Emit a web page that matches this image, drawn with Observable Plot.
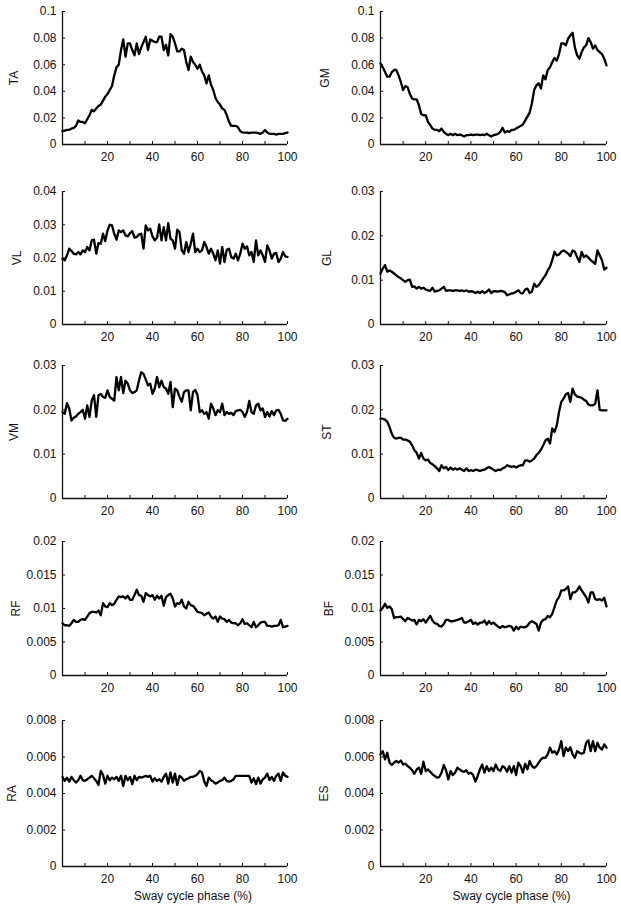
<!DOCTYPE html>
<html><head><meta charset="utf-8">
<script src="https://cdn.jsdelivr.net/npm/d3@7"></script>
<script src="https://cdn.jsdelivr.net/npm/@observablehq/plot@0.6"></script>
<style>
body{margin:0;background:#fff;}
#chart{position:relative;width:621px;height:906px;background:#fff;}
#chart svg{position:absolute;}
</style></head><body><div id="chart"></div>
<script>
// ---- data ----
const phase = [0,1,2,3,4,5,6,7,8,9,10,11,12,13,14,15,16,17,18,19,20,21,22,23,24,25,26,27,28,29,30,31,32,33,34,35,36,37,38,39,40,41,42,43,44,45,46,47,48,49,50,51,52,53,54,55,56,57,58,59,60,61,62,63,64,65,66,67,68,69,70,71,72,73,74,75,76,77,78,79,80,81,82,83,84,85,86,87,88,89,90,91,92,93,94,95,96,97,98,99,100];

const TA = [0.010,0.0105,0.011,0.011,0.012,0.0125,0.014,0.018,0.017,0.017,0.016,0.019,0.022,0.026,0.025,0.027,0.029,0.030,0.033,0.036,0.038,0.041,0.044,0.052,0.058,0.060,0.071,0.079,0.066,0.076,0.076,0.071,0.067,0.076,0.068,0.073,0.077,0.081,0.071,0.079,0.078,0.077,0.077,0.081,0.081,0.071,0.075,0.067,0.083,0.081,0.076,0.070,0.070,0.072,0.071,0.062,0.056,0.066,0.062,0.060,0.057,0.060,0.055,0.052,0.046,0.052,0.045,0.041,0.035,0.032,0.030,0.027,0.026,0.022,0.017,0.014,0.014,0.014,0.013,0.010,0.009,0.009,0.009,0.0085,0.009,0.009,0.009,0.0085,0.008,0.009,0.011,0.009,0.008,0.008,0.008,0.0075,0.008,0.008,0.008,0.0085,0.009];

const GM = [0.061,0.058,0.0545,0.051,0.051,0.0545,0.056,0.056,0.052,0.047,0.041,0.044,0.043,0.038,0.0345,0.034,0.034,0.0295,0.023,0.022,0.022,0.017,0.0145,0.012,0.011,0.011,0.010,0.012,0.0095,0.008,0.007,0.008,0.007,0.008,0.007,0.0075,0.007,0.006,0.007,0.007,0.0075,0.007,0.0075,0.0075,0.007,0.0075,0.007,0.008,0.007,0.006,0.007,0.0075,0.008,0.0095,0.0125,0.009,0.010,0.0095,0.011,0.011,0.012,0.013,0.014,0.015,0.018,0.021,0.024,0.031,0.041,0.0445,0.046,0.042,0.052,0.049,0.056,0.058,0.062,0.065,0.063,0.068,0.076,0.076,0.0745,0.0795,0.082,0.084,0.073,0.067,0.0645,0.0695,0.073,0.0745,0.080,0.077,0.072,0.0745,0.071,0.0695,0.068,0.0645,0.0595];

const VL = [0.0198,0.0193,0.0208,0.0228,0.0221,0.0213,0.0211,0.0218,0.0211,0.0223,0.0218,0.0233,0.0223,0.0253,0.0255,0.0213,0.0245,0.0243,0.0273,0.0251,0.0283,0.0300,0.0298,0.0273,0.0255,0.0283,0.0278,0.0283,0.0268,0.0265,0.0275,0.0281,0.0261,0.0263,0.0271,0.0273,0.0228,0.0298,0.0283,0.0288,0.0265,0.0253,0.0261,0.0301,0.0253,0.0293,0.0253,0.0305,0.0258,0.0253,0.0228,0.0285,0.0278,0.0223,0.0213,0.0248,0.0218,0.0243,0.0273,0.0218,0.0228,0.0218,0.0223,0.0248,0.0233,0.0213,0.0228,0.0213,0.0193,0.0223,0.0183,0.0233,0.0188,0.0225,0.0228,0.0203,0.0198,0.0213,0.0193,0.0213,0.0243,0.0228,0.0235,0.0208,0.0218,0.0188,0.0253,0.0208,0.0223,0.0208,0.0188,0.0238,0.0223,0.0198,0.0213,0.0215,0.0188,0.0198,0.0218,0.0205,0.0203];

const GL = [0.0115,0.0126,0.0134,0.0119,0.0122,0.0119,0.0115,0.0111,0.0107,0.0104,0.0100,0.0096,0.0100,0.0101,0.0085,0.0086,0.0081,0.0085,0.0081,0.0083,0.0079,0.0077,0.0076,0.0083,0.0074,0.0076,0.0077,0.0081,0.0085,0.0076,0.0077,0.0077,0.0076,0.0077,0.0077,0.0076,0.0077,0.0075,0.0077,0.0074,0.0075,0.0074,0.0071,0.0074,0.0071,0.0075,0.0071,0.0074,0.0079,0.0071,0.0075,0.0075,0.0074,0.0076,0.0075,0.0073,0.0066,0.0068,0.0070,0.0071,0.0074,0.0077,0.0071,0.0070,0.0079,0.0081,0.0071,0.0074,0.0092,0.0085,0.0089,0.0096,0.0104,0.0111,0.0122,0.0130,0.0145,0.0164,0.0156,0.0158,0.0164,0.0167,0.0164,0.0160,0.0154,0.0167,0.0164,0.0152,0.0141,0.0164,0.0152,0.0156,0.0151,0.0145,0.0141,0.0137,0.0167,0.0156,0.0145,0.0124,0.0128];

const VM = [0.0195,0.0191,0.0215,0.0203,0.0176,0.0182,0.0185,0.0191,0.0195,0.0200,0.0180,0.0210,0.0184,0.0221,0.0233,0.0184,0.0233,0.0236,0.0229,0.0227,0.0244,0.0229,0.0225,0.0221,0.0274,0.0244,0.0274,0.0238,0.0266,0.0259,0.0244,0.0238,0.0240,0.0244,0.0266,0.0285,0.0281,0.0268,0.0255,0.0259,0.0236,0.0248,0.0274,0.0251,0.0266,0.0251,0.0248,0.0236,0.0263,0.0206,0.0248,0.0244,0.0229,0.0218,0.0240,0.0244,0.0244,0.0199,0.0240,0.0245,0.0233,0.0195,0.0199,0.0191,0.0195,0.0180,0.0214,0.0203,0.0188,0.0199,0.0195,0.0214,0.0188,0.0195,0.0191,0.0193,0.0188,0.0197,0.0199,0.0200,0.0195,0.0184,0.0195,0.0220,0.0195,0.0191,0.0210,0.0214,0.0199,0.0203,0.0184,0.0195,0.0185,0.0197,0.0188,0.0199,0.0200,0.0191,0.0176,0.0175,0.0180];

const ST = [0.0180,0.0180,0.0178,0.0173,0.0161,0.0146,0.0137,0.0135,0.0137,0.0137,0.0133,0.0133,0.0131,0.0128,0.0120,0.0109,0.0103,0.0090,0.0103,0.0090,0.0086,0.0088,0.0080,0.0077,0.0073,0.0068,0.0062,0.0075,0.0068,0.0071,0.0064,0.0070,0.0065,0.0068,0.0065,0.0068,0.0065,0.0062,0.0068,0.0062,0.0064,0.0062,0.0065,0.0064,0.0062,0.0064,0.0065,0.0068,0.0071,0.0068,0.0065,0.0062,0.0065,0.0064,0.0068,0.0070,0.0075,0.0073,0.0071,0.0073,0.0070,0.0073,0.0075,0.0075,0.0086,0.0086,0.0083,0.0086,0.0090,0.0098,0.0103,0.0110,0.0120,0.0131,0.0135,0.0124,0.0158,0.0150,0.0165,0.0195,0.0218,0.0225,0.0235,0.0238,0.0218,0.0248,0.0235,0.0230,0.0229,0.0227,0.0223,0.0220,0.0212,0.0210,0.0210,0.0214,0.0244,0.0200,0.0199,0.0199,0.0199];

const RF = [0.0078,0.0075,0.0075,0.0074,0.0078,0.0083,0.0080,0.0080,0.0083,0.0084,0.0083,0.0088,0.0093,0.0095,0.0095,0.0094,0.0097,0.0090,0.0108,0.0103,0.0102,0.0108,0.0105,0.0107,0.0113,0.0118,0.0117,0.0118,0.0115,0.0119,0.0113,0.0113,0.0120,0.0128,0.0120,0.0119,0.0110,0.0123,0.0120,0.0118,0.0120,0.0113,0.0119,0.0115,0.0119,0.0104,0.0117,0.0120,0.0122,0.0115,0.0103,0.0108,0.0107,0.0113,0.0103,0.0100,0.0110,0.0105,0.0104,0.0100,0.0095,0.0094,0.0093,0.0090,0.0092,0.0094,0.0088,0.0085,0.0088,0.0080,0.0088,0.0085,0.0084,0.0080,0.0083,0.0079,0.0078,0.0078,0.0075,0.0078,0.0084,0.0077,0.0078,0.0075,0.0072,0.0080,0.0072,0.0075,0.0079,0.0080,0.0080,0.0074,0.0074,0.0073,0.0074,0.0074,0.0075,0.0083,0.0072,0.0073,0.0074];

const BF = [0.0097,0.0101,0.0107,0.0101,0.0103,0.0099,0.0086,0.0087,0.0087,0.0088,0.0084,0.0081,0.0086,0.0084,0.0082,0.0083,0.0076,0.0083,0.0081,0.0084,0.0079,0.0084,0.0089,0.0082,0.0078,0.0077,0.0074,0.0073,0.0077,0.0083,0.0083,0.0081,0.0081,0.0082,0.0083,0.0084,0.0086,0.0079,0.0079,0.0081,0.0083,0.0077,0.0079,0.0076,0.0079,0.0079,0.0082,0.0076,0.0081,0.0077,0.0079,0.0076,0.0073,0.0071,0.0074,0.0072,0.0073,0.0074,0.0073,0.0067,0.0073,0.0069,0.0073,0.0072,0.0072,0.0074,0.0079,0.0081,0.0079,0.0077,0.0067,0.0079,0.0083,0.0084,0.0089,0.0087,0.0092,0.0102,0.0112,0.0117,0.0127,0.0127,0.0129,0.0133,0.0114,0.0124,0.0124,0.0127,0.0133,0.0127,0.0122,0.0117,0.0109,0.0124,0.0124,0.0114,0.0113,0.0114,0.0112,0.0116,0.0103];

const RA = [0.00491,0.00469,0.00487,0.00465,0.00491,0.00473,0.00460,0.00473,0.00497,0.00473,0.00469,0.00478,0.00487,0.00497,0.00484,0.00469,0.00447,0.00524,0.00502,0.00454,0.00497,0.00473,0.00487,0.00478,0.00491,0.00469,0.00497,0.00441,0.00497,0.00473,0.00491,0.00451,0.00497,0.00473,0.00491,0.00487,0.00491,0.00497,0.00491,0.00497,0.00465,0.00484,0.00469,0.00478,0.00465,0.00491,0.00509,0.00454,0.00515,0.00460,0.00509,0.00447,0.00497,0.00487,0.00469,0.00478,0.00484,0.00491,0.00491,0.00497,0.00506,0.00524,0.00515,0.00465,0.00441,0.00487,0.00473,0.00465,0.00454,0.00460,0.00469,0.00473,0.00487,0.00469,0.00465,0.00469,0.00478,0.00497,0.00497,0.00497,0.00497,0.00497,0.00497,0.00497,0.00460,0.00484,0.00451,0.00487,0.00454,0.00478,0.00487,0.00509,0.00473,0.00491,0.00469,0.00497,0.00509,0.00469,0.00515,0.00497,0.00491];

const ES = [0.00614,0.00632,0.00587,0.00623,0.00569,0.00556,0.00569,0.00578,0.00569,0.00581,0.00559,0.00563,0.00550,0.00541,0.00527,0.00508,0.00532,0.00541,0.00508,0.00574,0.00523,0.00532,0.00519,0.00505,0.00496,0.00487,0.00490,0.00514,0.00556,0.00527,0.00477,0.00523,0.00501,0.00514,0.00541,0.00532,0.00523,0.00519,0.00527,0.00508,0.00514,0.00501,0.00465,0.00496,0.00532,0.00559,0.00514,0.00550,0.00523,0.00541,0.00523,0.00559,0.00532,0.00523,0.00550,0.00541,0.00519,0.00550,0.00514,0.00550,0.00501,0.00569,0.00550,0.00514,0.00563,0.00532,0.00578,0.00550,0.00541,0.00550,0.00569,0.00587,0.00596,0.00596,0.00614,0.00651,0.00623,0.00632,0.00614,0.00641,0.00687,0.00605,0.00651,0.00632,0.00654,0.00614,0.00596,0.00632,0.00623,0.00618,0.00623,0.00678,0.00691,0.00632,0.00687,0.00632,0.00678,0.00651,0.00641,0.00669,0.00651];

const muscles = ["TA","GM","VL","GL","VM","ST","RF","BF","RA","ES"];
const seriesValues = [TA, GM, VL, GL, VM, ST, RF, BF, RA, ES];
const yTicks = [
  [0,0.02,0.04,0.06,0.08,0.1],
  [0,0.02,0.04,0.06,0.08,0.1],
  [0,0.01,0.02,0.03,0.04],
  [0,0.01,0.02,0.03],
  [0,0.01,0.02,0.03],
  [0,0.01,0.02,0.03],
  [0,0.005,0.01,0.015,0.02],
  [0,0.005,0.01,0.015,0.02],
  [0,0.002,0.004,0.006,0.008],
  [0,0.002,0.004,0.006,0.008]
];
const xTickMarks = [10,20,30,40,50,60,70,80,90,100];
const xTickLabels = [20,40,60,80,100];
const xLabel = "Sway cycle phase (%)";

// ---- layout ----
const rowTop = [11,191,365,541,720];
const rowHeight = [133,133,133,134,146];
const colLeft = [0,310];
const colMarginLeft = [62,70];
const colPlotWidth = [225,226];
const colMarginRight = [22,14];
const labelCenter = [13.3,14.7,16.7,16.7,13.3,16.3,15.5,18,10.8,13.3];
const FONT = "'Liberation Sans', Arial, Helvetica, sans-serif";
const fmt = d3.format("~g");

const chart = document.getElementById("chart");
muscles.forEach((name, i) => {
  const row = Math.floor(i / 2), col = i % 2;
  const last = row === 4;
  const mt = 10, mb = last ? 40 : 24;
  const ml = colMarginLeft[col];
  const ticks = yTicks[i];
  const marks = [
    Plot.ruleX([0], {stroke: "#111", strokeWidth: 1.3}),
    Plot.ruleY([0], {stroke: "#111", strokeWidth: 1.3}),
    Plot.axisY({ticks, tickSize: -3, tickPadding: 9, tickFormat: fmt, stroke: "#111", fill: "#111",
      label: name, labelAnchor: "center", labelArrow: "none", labelOffset: ml - (labelCenter[i] - 4.3)}),
    Plot.axisX({ticks: xTickMarks, tickSize: -3, tickPadding: 10.5, stroke: "#111", fill: "#111",
      tickFormat: d => xTickLabels.includes(d) ? String(d) : "", label: null}),
    Plot.line(seriesValues[i], {x: phase, y: d => d, stroke: "#000", strokeWidth: 2.3, strokeLinejoin: "round"})
  ];
  if (last) marks.push(Plot.text([xLabel], {text: d => d, frameAnchor: "bottom", dx: 18, dy: 30, lineAnchor: "middle", fill: "#111", fontSize: 12}));
  const svg = Plot.plot({
    width: ml + colPlotWidth[col] + colMarginRight[col],
    height: mt + rowHeight[row] + mb,
    marginTop: mt, marginBottom: mb, marginLeft: ml, marginRight: colMarginRight[col],
    x: {domain: [0, 100]},
    y: {domain: [ticks[0], ticks[ticks.length - 1]]},
    style: {fontSize: "12px", fontFamily: FONT, background: "transparent", overflow: "visible", color: "#111"},
    marks
  });
  svg.style.left = colLeft[col] + "px";
  svg.style.top = (rowTop[row] - mt) + "px";
  chart.appendChild(svg);
});
</script></body></html>
